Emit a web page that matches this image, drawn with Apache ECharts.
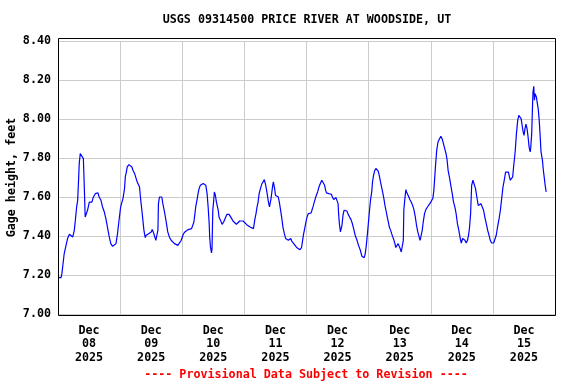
<!DOCTYPE html>
<html>
<head>
<meta charset="utf-8">
<script src="https://cdn.jsdelivr.net/npm/echarts@6/dist/echarts.min.js"></script>
<style>html,body{margin:0;padding:0;background:#fff}#c{width:576px;height:384px}</style>
</head>
<body>
<div id="c"></div>
<script>
const titleText = 'USGS 09314500 PRICE RIVER AT WOODSIDE, UT';
const yName = 'Gage height, feet';
const footerText = '---- Provisional Data Subject to Revision ----';
const month = 'Dec';
const year = '2025';
const days = ['08', '09', '10', '11', '12', '13', '14', '15'];
const yTicks = [7.00, 7.20, 7.40, 7.60, 7.80, 8.00, 8.20, 8.40];

// hours since Dec 08 00:00
const hours = [
  0, 1.2, 1.5, 1.8, 2.4, 3.1, 3.7, 4.4, 5.0, 5.7, 6.0, 6.3, 6.7, 7.2, 7.6, 8.0, 8.2, 8.6, 9.3, 9.8,
  10.2, 10.5, 11.1, 11.4, 12.1, 12.7, 13.1, 13.6, 14.4, 14.9, 15.4, 15.9, 16.6, 17.2, 17.9, 18.5, 19.2, 19.8,
  20.4, 21.1, 21.7, 22.4, 23.0, 23.5, 24.2,
  24.7, 25.1, 25.7, 26.0, 26.4, 26.75, 27.4, 28.0, 28.55, 28.95, 29.6, 30.2, 30.6, 31.1, 31.5, 31.9, 32.4,
  32.8, 33.2, 33.7, 34.1, 34.5, 35.0, 35.5, 36.0, 36.4, 36.8, 37.3, 37.8, 38.2, 38.6, 38.8, 39.2, 39.6,
  40.1, 40.5, 41.15, 41.8, 42.4, 43.1, 43.7, 44.4, 45.0, 45.6, 46.3, 46.9, 47.6,
  48.4, 49.0, 49.65, 50.3, 50.9, 51.6, 52.2, 52.5, 52.9, 53.2, 53.8, 54.1, 54.5, 55.0, 55.4, 56.1, 56.7,
  57.1, 57.6, 58.0, 58.4, 58.6, 58.9, 59.3, 59.5, 59.8, 60.1, 60.4, 60.8, 61.2, 61.9, 62.2, 62.8, 63.4,
  64.0, 64.8, 65.3, 66.1, 66.6, 67.1, 67.6, 68.3, 68.9, 69.6, 70.2, 70.85, 71.5, 72.1,
  72.9, 73.6, 74.2, 74.85, 75.5, 75.9, 76.1, 76.5, 76.9, 77.3, 77.7, 78.2, 78.7, 79.2, 79.7, 80.0, 80.25,
  80.8, 81.3, 81.7, 82.05, 82.3, 82.7, 82.95, 83.2, 83.5, 83.7, 84.0, 84.4, 84.75, 85.1, 85.5, 85.9, 86.4,
  86.9, 87.45, 87.95, 88.5, 89.0, 89.6, 89.9, 90.3, 90.9, 91.6, 92.2, 92.85, 93.5, 94.1, 94.5, 94.9, 95.3, 95.8,
  96.2, 96.7, 97.2, 97.75, 98.1, 98.5, 99.0, 99.4, 99.8, 100.3, 100.8, 101.35, 101.9, 102.25, 102.6, 103.0,
  103.4, 103.7, 104.2, 104.6, 104.95, 105.2, 105.6, 106.0, 106.5, 107.0, 107.4, 107.8, 108.2, 108.4, 108.7,
  109.1, 109.3, 109.7, 110.1, 110.5, 111.0, 111.6, 112.1, 112.65, 113.2, 113.7, 114.2, 114.8, 115.5, 116.1,
  116.8, 117.4, 117.8, 118.3, 118.7, 119.1, 119.6,
  120.0, 120.4, 120.8, 121.2, 121.5, 121.9, 122.3, 122.8, 123.3, 123.7, 124.1, 124.6, 125.0, 125.4, 125.9,
  126.3, 126.7, 127.2, 127.6, 128.0, 128.5, 128.9, 129.25, 129.8, 130.15, 130.5, 130.9, 131.4, 131.8, 132.2,
  132.6, 133.0, 133.4, 133.6, 134.0, 134.4, 134.65, 135.2, 135.55, 135.9, 136.45, 137.0, 137.5, 138.0, 138.5,
  139.0, 139.5, 139.9, 140.3, 140.7, 141.1, 141.6, 142.1, 142.6, 143.1, 143.65, 144.2,
  144.8, 145.2, 145.55, 145.9, 146.3, 146.8, 147.4, 147.9, 148.4, 148.9, 149.4, 149.9, 150.3, 150.7, 151.2,
  151.75, 152.3, 152.8, 153.3, 153.8, 154.3, 154.85, 155.4, 155.8, 156.3, 156.8, 157.2, 157.7, 158.2, 158.6,
  159.0, 159.4, 159.8, 160.3, 160.8, 161.3, 161.8, 162.35, 162.9, 163.4, 163.9, 164.4, 164.9, 165.45, 166.0,
  166.5, 167.0, 167.5, 168.3,
  168.8, 169.3, 169.8, 170.4, 170.9, 171.4, 171.9, 172.4, 172.9, 173.5, 174.0, 174.4, 174.75, 175.3, 175.65,
  176.0, 176.6, 177.1, 177.6, 178.0, 178.5, 178.9, 179.3, 179.7, 180.05, 180.4, 180.8, 181.2, 181.6, 182.0,
  182.4, 182.6, 183.0, 183.3, 183.5, 183.8, 184.05, 184.3, 184.6, 184.8, 185.1, 185.5, 185.9, 186.25, 186.6,
  187.15, 187.5, 187.9, 188.3, 188.6
];
const gage = [
  7.187, 7.187, 7.207, 7.241, 7.310, 7.352, 7.387, 7.409, 7.415, 7.395, 7.412, 7.429, 7.480, 7.549, 7.583, 7.703, 7.771, 7.823, 7.823, 7.797,
  7.634, 7.497, 7.489, 7.532, 7.574, 7.583, 7.574, 7.597, 7.617, 7.626, 7.622, 7.600, 7.583, 7.549, 7.523, 7.489, 7.438, 7.395,
  7.361, 7.347, 7.341, 7.361, 7.412, 7.472, 7.549,
  7.574, 7.592, 7.643, 7.703, 7.728, 7.754, 7.766, 7.763, 7.754, 7.737, 7.720, 7.694, 7.677, 7.669, 7.651, 7.592, 7.532,
  7.480, 7.429, 7.392, 7.404, 7.412, 7.412, 7.409, 7.421, 7.433, 7.421, 7.429, 7.378, 7.404, 7.429, 7.566, 7.600, 7.609,
  7.600, 7.566, 7.523, 7.472, 7.421, 7.392, 7.378, 7.369, 7.361, 7.352, 7.352, 7.357, 7.378,
  7.409, 7.421, 7.426, 7.433, 7.443, 7.438, 7.438, 7.472, 7.515, 7.549, 7.592, 7.617, 7.643, 7.660, 7.669, 7.669, 7.669,
  7.660, 7.617, 7.549, 7.464, 7.395, 7.344, 7.313, 7.335, 7.532, 7.574, 7.626, 7.609, 7.574, 7.532, 7.497, 7.480, 7.460,
  7.472, 7.497, 7.511, 7.511, 7.506, 7.489, 7.477, 7.467, 7.460, 7.464, 7.477, 7.480, 7.477, 7.467,
  7.458, 7.450, 7.446, 7.443, 7.438, 7.446, 7.489, 7.515, 7.549, 7.574, 7.617, 7.643, 7.665, 7.672, 7.689, 7.682, 7.660,
  7.617, 7.574, 7.549, 7.549, 7.592, 7.634, 7.660, 7.677, 7.669, 7.643, 7.609, 7.604, 7.609, 7.600, 7.574, 7.540, 7.497,
  7.446, 7.412, 7.387, 7.378, 7.378, 7.374, 7.387, 7.374, 7.369, 7.352, 7.341, 7.332, 7.330, 7.341, 7.378, 7.412, 7.438, 7.472,
  7.497, 7.515, 7.515, 7.518, 7.532, 7.549, 7.574, 7.592, 7.609, 7.626, 7.651, 7.669, 7.686, 7.694, 7.686, 7.660,
  7.634, 7.621, 7.614, 7.617, 7.614, 7.626, 7.614, 7.600, 7.587, 7.592, 7.597, 7.587, 7.566, 7.515, 7.464,
  7.421, 7.429, 7.455, 7.506, 7.532, 7.535, 7.528, 7.511, 7.497, 7.484, 7.464, 7.438, 7.404, 7.378, 7.352,
  7.327, 7.296, 7.289, 7.289, 7.310, 7.352, 7.420,
  7.480, 7.540, 7.592, 7.626, 7.677, 7.711, 7.733, 7.746, 7.746, 7.733, 7.711, 7.677, 7.651, 7.626, 7.592,
  7.557, 7.532, 7.497, 7.472, 7.446, 7.429, 7.412, 7.398, 7.378, 7.361, 7.341, 7.347, 7.361, 7.347, 7.335,
  7.318, 7.313, 7.378, 7.532, 7.592, 7.638, 7.626, 7.617, 7.600, 7.587, 7.574, 7.557, 7.535, 7.501, 7.455,
  7.421, 7.395, 7.378, 7.383, 7.429, 7.472, 7.515, 7.535, 7.546, 7.552, 7.566, 7.575,
  7.592, 7.634, 7.703, 7.771, 7.839, 7.882, 7.899, 7.911, 7.899, 7.874, 7.848, 7.823, 7.792, 7.737, 7.703,
  7.660, 7.617, 7.574, 7.549, 7.515, 7.464, 7.429, 7.387, 7.364, 7.387, 7.395, 7.378, 7.364, 7.378, 7.404,
  7.446, 7.515, 7.660, 7.686, 7.681, 7.643, 7.600, 7.557, 7.557, 7.566, 7.557, 7.532, 7.497, 7.464, 7.429,
  7.404, 7.378, 7.364, 7.364,
  7.369, 7.404, 7.446, 7.489, 7.532, 7.592, 7.651, 7.686, 7.728, 7.737, 7.728, 7.703, 7.686, 7.686, 7.703,
  7.754, 7.831, 7.925, 7.993, 8.019, 8.022, 8.002, 7.968, 7.933, 7.916, 7.951, 7.973, 7.951, 7.908, 7.856,
  7.831, 7.848, 7.925, 8.062, 8.138, 8.168, 8.096, 8.130, 8.122, 8.113, 8.087, 8.053, 7.993, 7.916, 7.831,
  7.788, 7.737, 7.694, 7.651, 7.626
];

const FONT = '"DejaVu Sans Mono", "Liberation Mono", monospace';
const chart = echarts.init(document.getElementById('c'), null, {renderer: 'canvas'});
const GL = 58, GR = 21, GT = 41, GB = 70;

chart.setOption({
  animation: false,
  backgroundColor: '#ffffff',
  grid: {left: GL, right: GR, top: GT, bottom: GB, show: false, containLabel: false, outerBoundsMode: 'none'},
  xAxis: [
    {
      type: 'category',
      data: days.map(d => month + '\n' + d + '\n' + year),
      boundaryGap: true,
      axisLine: {show: false},
      axisTick: {show: false},
      splitLine: {show: true, interval: 0, lineStyle: {color: '#cccccc', width: 1}},
      axisLabel: {
        interval: 0, margin: 10, lineHeight: 13.5,
        fontFamily: FONT, fontWeight: 'bold', fontSize: 11.7, color: '#000'
      }
    },
    {
      type: 'value', min: 0, max: 192, show: false
    }
  ],
  yAxis: {
    type: 'value',
    min: yTicks[0], max: yTicks[yTicks.length - 1], interval: 0.2,
    name: yName, nameLocation: 'middle', nameRotate: 90, nameGap: 40, nameMoveOverlap: false,
    nameTextStyle: {fontFamily: FONT, fontWeight: 'bold', fontSize: 11.7, color: '#000'},
    axisLine: {show: false},
    axisTick: {show: false},
    splitLine: {show: true, lineStyle: {color: '#cccccc', width: 1}},
    axisLabel: {
      margin: 7, formatter: v => Number(v).toFixed(2),
      fontFamily: FONT, fontWeight: 'bold', fontSize: 11.7, color: '#000'
    }
  },
  series: [{
    type: 'line',
    xAxisIndex: 1,
    data: hours.map((h, i) => [h, gage[i]]),
    showSymbol: false,
    smooth: false,
    lineStyle: {color: '#0000ff', width: 1.2},
    itemStyle: {color: '#0000ff'}
  }],
  graphic: [
    {type: 'rect', shape: {x: GL + 0.5, y: GT - 2.5, width: 576 - GL - GR, height: 384 - GT - GB + 4},
     style: {fill: null, stroke: '#000', lineWidth: 1}, z: 100},
    {type: 'text', x: 307, y: 20, style: {text: titleText, textAlign: 'center', textVerticalAlign: 'middle',
      font: 'bold 11.7px ' + FONT, fill: '#000'}},
    {type: 'text', x: 306, y: 375, style: {text: footerText, textAlign: 'center', textVerticalAlign: 'middle',
      font: 'bold 11.7px ' + FONT, fill: '#ff0000'}}
  ]
});
</script>
</body>
</html>
